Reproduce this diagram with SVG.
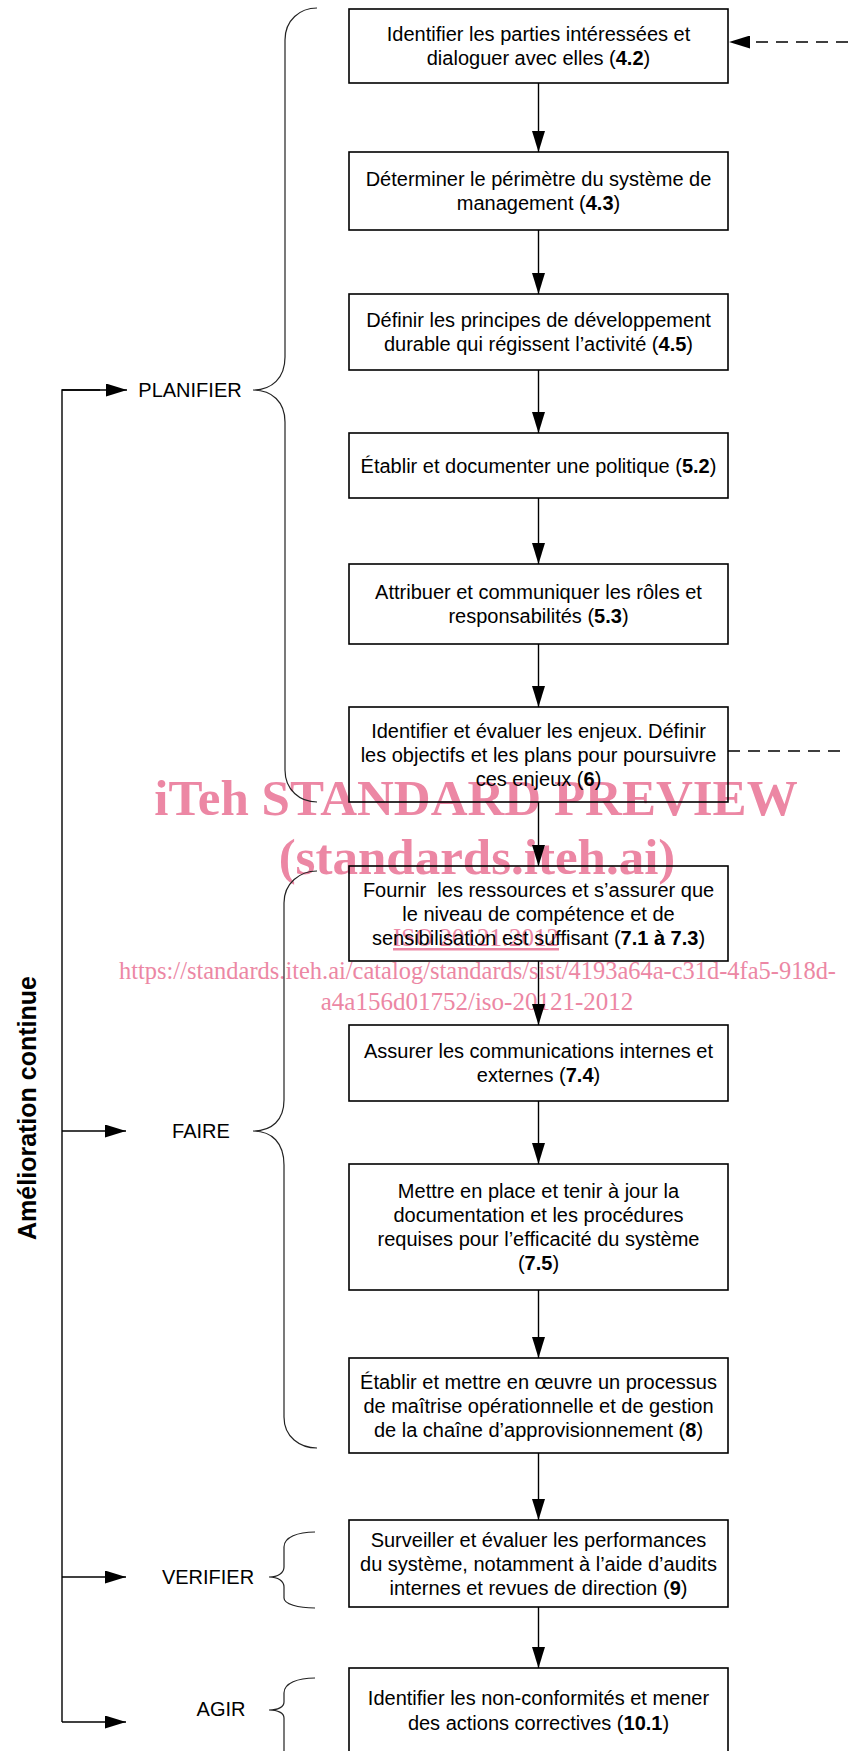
<svg xmlns="http://www.w3.org/2000/svg" width="848" height="1751" viewBox="0 0 848 1751">
<style>
.box{fill:none;stroke:#000;stroke-width:1.6}
.t{font-family:"Liberation Sans",Arial,sans-serif;font-size:20px;fill:#000;text-anchor:middle}
.b{font-weight:bold}
.lbl{font-family:"Liberation Sans",Arial,sans-serif;font-size:20px;fill:#000;text-anchor:middle}
.br{fill:none;stroke:#222;stroke-width:1.2}
.con{fill:none;stroke:#000;stroke-width:1.4}
.dash{fill:none;stroke:#000;stroke-width:1.4;stroke-dasharray:12 8}
.wm{font-family:"Liberation Serif","Times New Roman",serif;fill:#EC87A4;text-anchor:middle}
</style>
<defs>
<marker id="arr" viewBox="0 0 10 10" refX="10" refY="5" markerUnits="userSpaceOnUse" markerWidth="21" markerHeight="13" orient="auto" preserveAspectRatio="none">
<path d="M0,0 L10,5 L0,10 z" fill="#000"/>
</marker>
</defs>
<rect x="0" y="0" width="848" height="1751" fill="#fff"/>

<g id="watermark">
<text class="wm" x="476" y="815" font-size="51" font-weight="bold">iTeh STANDARD PREVIEW</text>
<text class="wm" x="477" y="874" font-size="51" font-weight="bold">(standards.iteh.ai)</text>
<text class="wm" x="476" y="946" font-size="25" text-decoration="underline">ISO 20121:2012</text>
<text class="wm" x="477.5" y="979" font-size="25" textLength="717" lengthAdjust="spacingAndGlyphs">https://standards.iteh.ai/catalog/standards/sist/4193a64a-c31d-4fa5-918d-</text>
<text class="wm" x="477" y="1010" font-size="25">a4a156d01752/iso-20121-2012</text>
</g>

<g id="connectors">
<line class="con" x1="538.5" y1="83" x2="538.5" y2="152" marker-end="url(#arr)"/>
<line class="con" x1="538.5" y1="230" x2="538.5" y2="294" marker-end="url(#arr)"/>
<line class="con" x1="538.5" y1="370" x2="538.5" y2="433" marker-end="url(#arr)"/>
<line class="con" x1="538.5" y1="498" x2="538.5" y2="564" marker-end="url(#arr)"/>
<line class="con" x1="538.5" y1="644" x2="538.5" y2="707" marker-end="url(#arr)"/>
<line class="con" x1="538.5" y1="802" x2="538.5" y2="866" marker-end="url(#arr)"/>
<line class="con" x1="538.5" y1="961" x2="538.5" y2="1025" marker-end="url(#arr)"/>
<line class="con" x1="538.5" y1="1101" x2="538.5" y2="1164" marker-end="url(#arr)"/>
<line class="con" x1="538.5" y1="1290" x2="538.5" y2="1358" marker-end="url(#arr)"/>
<line class="con" x1="538.5" y1="1453" x2="538.5" y2="1520" marker-end="url(#arr)"/>
<line class="con" x1="538.5" y1="1607" x2="538.5" y2="1668" marker-end="url(#arr)"/>
<line class="dash" x1="848" y1="42" x2="729" y2="42" marker-end="url(#arr)"/>
<line class="dash" x1="728" y1="751" x2="848" y2="751"/>
<path class="con" d="M100,390 H62 V1722"/>
<line class="con" x1="62" y1="390" x2="127" y2="390" marker-end="url(#arr)"/>
<line class="con" x1="62" y1="1131" x2="126" y2="1131" marker-end="url(#arr)"/>
<line class="con" x1="62" y1="1577" x2="126" y2="1577" marker-end="url(#arr)"/>
<line class="con" x1="62" y1="1722" x2="126" y2="1722" marker-end="url(#arr)"/>
</g>

<g id="brackets">
<path class="br" d="M317,8 C300,8 285,20 285,40 L285,357 C285,378 272,390 253,390 C272,390 285,402 285,422 L285,770 C285,790 300,802 317,802"/>
<path class="br" d="M317,871 C300,871 284,883 284,903 L284,1100 C284,1120 272,1131 253,1131 C272,1131 284,1143 284,1165 L284,1417 C284,1437 300,1448 317,1448"/>
<path class="br" d="M315,1532 C298,1532 284,1537 284,1547 L284,1567 C284,1573 278,1577 269,1577 C278,1577 284,1581 284,1587 L284,1598 C284,1604 298,1608 315,1608"/>
<path class="br" d="M315,1678 C298,1678 284,1683 284,1693 L284,1702 C284,1707 278,1710 269,1710 C278,1710 284,1713 284,1718 L284,1760"/>
</g>

<g id="lbl-planifier"><text class="lbl" x="190" y="397">PLANIFIER</text></g>
<g id="lbl-faire"><text class="lbl" x="201" y="1138">FAIRE</text></g>
<g id="lbl-verifier"><text class="lbl" x="208" y="1584">VERIFIER</text></g>
<g id="lbl-agir"><text class="lbl" x="221" y="1716">AGIR</text></g>
<g id="lbl-amelioration"><text x="0" y="0" transform="translate(36,1108) rotate(-90)" font-family="Liberation Sans, Arial, sans-serif" font-size="25" font-weight="bold" text-anchor="middle">Amélioration continue</text></g>

<g id="n1"><rect class="box" x="349" y="9" width="379" height="74"/>
<text class="t" x="538.5" y="41">Identifier les parties intéressées et</text>
<text class="t" x="538.5" y="65">dialoguer avec elles (<tspan class="b">4.2</tspan>)</text></g>

<g id="n2"><rect class="box" x="349" y="152" width="379" height="78"/>
<text class="t" x="538.5" y="186">Déterminer le périmètre du système de</text>
<text class="t" x="538.5" y="210">management (<tspan class="b">4.3</tspan>)</text></g>

<g id="n3"><rect class="box" x="349" y="294" width="379" height="76"/>
<text class="t" x="538.5" y="327">Définir les principes de développement</text>
<text class="t" x="538.5" y="351">durable qui régissent l’activité (<tspan class="b">4.5</tspan>)</text></g>

<g id="n4"><rect class="box" x="349" y="433" width="379" height="65"/>
<text class="t" x="538.5" y="472.5">Établir et documenter une politique (<tspan class="b">5.2</tspan>)</text></g>

<g id="n5"><rect class="box" x="349" y="564" width="379" height="80"/>
<text class="t" x="538.5" y="599">Attribuer et communiquer les rôles et</text>
<text class="t" x="538.5" y="623">responsabilités (<tspan class="b">5.3</tspan>)</text></g>

<g id="n6"><rect class="box" x="349" y="707" width="379" height="95"/>
<text class="t" x="538.5" y="737.5">Identifier et évaluer les enjeux. Définir</text>
<text class="t" x="538.5" y="761.5">les objectifs et les plans pour poursuivre</text>
<text class="t" x="538.5" y="785.5">ces enjeux (<tspan class="b">6</tspan>)</text></g>

<g id="n7"><rect class="box" x="349" y="866" width="379" height="95"/>
<text class="t" x="538.5" y="896.5" xml:space="preserve">Fournir  les ressources et s’assurer que</text>
<text class="t" x="538.5" y="920.5">le niveau de compétence et de</text>
<text class="t" x="538.5" y="944.5">sensibilisation est suffisant (<tspan class="b">7.1 à 7.3</tspan>)</text></g>

<g id="n8"><rect class="box" x="349" y="1025" width="379" height="76"/>
<text class="t" x="538.5" y="1058">Assurer les communications internes et</text>
<text class="t" x="538.5" y="1082">externes (<tspan class="b">7.4</tspan>)</text></g>

<g id="n9"><rect class="box" x="349" y="1164" width="379" height="126"/>
<text class="t" x="538.5" y="1198">Mettre en place et tenir à jour la</text>
<text class="t" x="538.5" y="1222">documentation et les procédures</text>
<text class="t" x="538.5" y="1246">requises pour l’efficacité du système</text>
<text class="t" x="538.5" y="1270">(<tspan class="b">7.5</tspan>)</text></g>

<g id="n10"><rect class="box" x="349" y="1358" width="379" height="95"/>
<text class="t" x="538.5" y="1388.5">Établir et mettre en œuvre un processus</text>
<text class="t" x="538.5" y="1412.5">de maîtrise opérationnelle et de gestion</text>
<text class="t" x="538.5" y="1436.5">de la chaîne d’approvisionnement (<tspan class="b">8</tspan>)</text></g>

<g id="n11"><rect class="box" x="349" y="1520" width="379" height="87"/>
<text class="t" x="538.5" y="1546.5">Surveiller et évaluer les performances</text>
<text class="t" x="538.5" y="1570.5">du système, notamment à l’aide d’audits</text>
<text class="t" x="538.5" y="1594.5">internes et revues de direction (<tspan class="b">9</tspan>)</text></g>

<g id="n12"><rect class="box" x="349" y="1668" width="379" height="86"/>
<text class="t" x="538.5" y="1705">Identifier les non-conformités et mener</text>
<text class="t" x="538.5" y="1730">des actions correctives (<tspan class="b">10.1</tspan>)</text></g>
</svg>
